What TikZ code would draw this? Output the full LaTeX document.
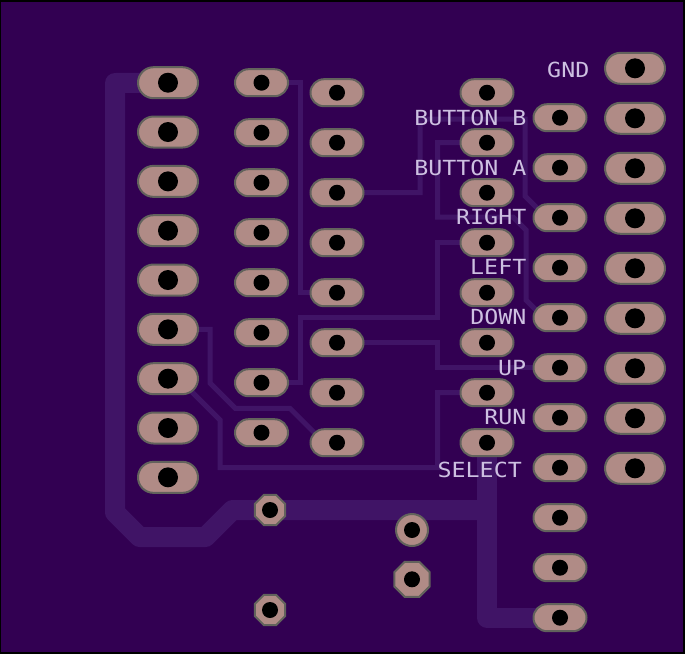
\documentclass[tikz,border=0pt]{standalone}
\usepackage{fontspec}
\newfontfamily\pcbfont[FakeStretch=1.12]{DejaVu Sans Mono}
\usetikzlibrary{shapes.geometric}
\definecolor{bgc}{RGB}{50,0,82}
\definecolor{trc}{RGB}{64,20,102}
\definecolor{padc}{RGB}{176,139,134}
\definecolor{padb}{RGB}{98,98,92}
\definecolor{txtc}{RGB}{205,192,225}
\pgfdeclarelayer{board}
\pgfdeclarelayer{traces}
\pgfsetlayers{board,traces,main}
\begin{document}
\begin{tikzpicture}[x=1pt,y=-1pt,
  bigpad/.style={rectangle, minimum width=60pt, minimum height=31pt, rounded corners=15.5pt,
    fill=padc, draw=padb, line width=2pt, inner sep=0pt,
    path picture={\fill[black] (path picture bounding box.center) circle[radius=10pt];}},
  smallpad/.style={rectangle, minimum width=53pt, minimum height=27pt, rounded corners=13.5pt,
    fill=padc, draw=padb, line width=2pt, inner sep=0pt,
    path picture={\fill[black] (path picture bounding box.center) circle[radius=8pt];}},
  octvia/.style={regular polygon, regular polygon sides=8, inner sep=0pt,
    fill=padc, draw=padb, line width=2pt,
    path picture={\fill[black] (path picture bounding box.center) circle[radius=8pt];}},
  roundvia/.style={circle, inner sep=0pt, minimum size=32pt,
    fill=padc, draw=padb, line width=2pt,
    path picture={\fill[black] (path picture bounding box.center) circle[radius=8pt];}},
  thintrace/.style={draw=trc, line width=5pt, line join=miter},
  widetrace/.style={draw=trc, line width=20pt, line join=round, line cap=round},
  lbl/.style={text=txtc, inner sep=0pt, anchor=east, font=\pcbfont\fontsize{20.8pt}{20.8pt}\selectfont}
]
\useasboundingbox (0,0) rectangle (685,654);
\begin{pgfonlayer}{board}
  \fill[black] (0,0) rectangle (685,654);
  \fill[bgc] (1,1.5) rectangle (683.3,652.3);
\end{pgfonlayer}

% pads
\foreach \k in {1,...,9} \node[bigpad] (a\k) at (168,{82.7+49.33*(\k-1)}) {};
\foreach \k in {1,...,8} \node[smallpad] (b\k) at (261.5,{82.7+50*(\k-1)}) {};
\foreach \k in {1,...,8} \node[smallpad] (c\k) at (337,{92.7+50*(\k-1)}) {};
\foreach \k in {1,...,8} \node[smallpad] (d\k) at (487,{92.7+50*(\k-1)}) {};
\foreach \k in {1,...,11} \node[smallpad] (e\k) at (560,{117.7+50*(\k-1)}) {};
\foreach \k in {1,...,9} \node[bigpad] (f\k) at (635,{68.3+50*(\k-1)}) {};

% vias
\node[octvia, minimum size=32.5pt] (v1) at (270,510) {};
\node[roundvia] (v2) at (412,530) {};
\node[octvia, minimum size=38pt] (v3) at (412,579.3) {};
\node[octvia, minimum size=32.5pt] (v4) at (270,610) {};
\coordinate (j) at (487,510);

% traces
\begin{pgfonlayer}{traces}
  \draw[widetrace] (a1.center) -- (115,83) -- (115,512.5) -- (139.5,537) -- (205.5,537)
        -- (232.5,510) -- (v1.center) -- (j);
  \draw[widetrace] (d8.center) |- (e11.center);
  \draw[thintrace] (b1.center) -- (300,82.7) -- (300,292.7) -- (c5.center);
  \draw[thintrace] (c3.center) -- (420,192.7) -- (420,119) -- (525,119) -- (525,196)
        -- (546.7,217.7) -- (e3.center);
  \draw[thintrace] (d2.center) -- (437.5,142.7) -- (437.5,217) -- (513,217) -- (526,230)
        -- (526,300) -- (543.7,317.7) -- (e5.center);
  \draw[thintrace] (d4.center) -- (437.5,242.7) -- (437.5,317.5) -- (300,317.5)
        -- (300,382.7) -- (b7.center);
  \draw[thintrace] (c6.center) -- (437.5,342.7) -- (437.5,367.7) -- (e6.center);
  \draw[thintrace] (d7.center) -- (437.5,392.7) -- (437.5,467.5) -- (220,467.5)
        -- (220,420) -- (178.7,378.7) -- (a7.center);
  \draw[thintrace] (a6.center) -- (210,329.3) -- (210,383) -- (235.3,408.3) -- (290,408.3)
        -- (324.4,442.7) -- (c8.center);
\end{pgfonlayer}

% labels
\node[lbl] (lgnd) at (589.5,70) {GND};
\node[lbl] (lbb) at (526.7,117.7) {BUTTON B};
\node[lbl] (lba) at (526.7,167.8) {BUTTON A};
\node[lbl] (lright) at (526.5,217) {RIGHT};
\node[lbl] (lleft) at (526.5,267.2) {LEFT};
\node[lbl] (ldown) at (526.7,317) {DOWN};
\node[lbl] (lup) at (526.3,367.8) {UP};
\node[lbl] (lrun) at (526.7,417.5) {RUN};
\node[lbl] (lsel) at (522,469.5) {SELECT};
\end{tikzpicture}
\end{document}
